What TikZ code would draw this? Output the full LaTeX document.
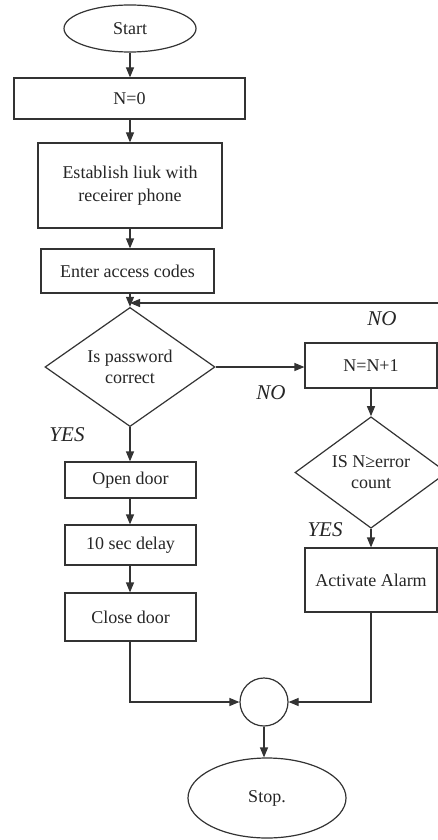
\documentclass[tikz,border=0pt]{standalone}
\usepackage{fontspec}
\setmainfont{Liberation Serif}
\usetikzlibrary{shapes.geometric,arrows.meta}
\begin{document}
\begin{tikzpicture}[x=1pt,y=-1pt,
  every node/.style={inner sep=0pt, text=black!85},
  line/.style={draw=black!80, line width=1.2pt},
  arr/.style={line, -{Triangle[length=10pt,width=8pt]}},
  boxnode/.style={draw=black!80, line width=1.2pt, rectangle, align=center, font=\fontsize{18}{23}\selectfont},
  decnode/.style={draw=black!80, line width=1.2pt, diamond, align=center, font=\fontsize{18}{21}\selectfont},
  termnode/.style={draw=black!80, line width=1.2pt, ellipse, font=\fontsize{18}{22}\selectfont},
  lbl/.style={font=\fontsize{21}{24}\selectfont\itshape}
]
\useasboundingbox (0,0) rectangle (438,840);
\fill[white] (0,0) rectangle (438,840);

\node[termnode, minimum width=132pt, minimum height=47pt] (start) at (130,28.5) {Start};
\node[boxnode, minimum width=231pt, minimum height=41pt] (n0) at (129.5,98.5) {N=0};
\node[boxnode, minimum width=184pt, minimum height=85pt] (est) at (130,185.5) {Establish liuk with\\receirer phone};
\node[boxnode, minimum width=173pt, minimum height=44pt] (enter) at (127.5,271) {Enter access codes};
\coordinate (merge) at (130,303);
\node[decnode, minimum width=170pt, minimum height=86pt] (dec1) at (130,367) {Is password\\correct};
\node[boxnode, minimum width=132pt, minimum height=45pt] (inc) at (371,365.5) {N=N+1};
\node[decnode, minimum width=152pt, minimum height=91pt] (dec2) at (371,472.5) {IS N≥error\\count};
\node[boxnode, minimum width=132pt, minimum height=64pt] (alarm) at (371,580) {Activate Alarm};
\node[boxnode, minimum width=131pt, minimum height=36pt] (open) at (130.5,480) {Open door};
\node[boxnode, minimum width=131pt, minimum height=40pt] (delay) at (130.5,545) {10 sec delay};
\node[boxnode, minimum width=131pt, minimum height=48pt] (close) at (130.5,617) {Close door};
\node[draw=black!80, line width=1.2pt, circle, minimum size=48pt] (join) at (264,702) {};
\node[termnode, minimum width=158pt, minimum height=80pt] (stop) at (267,798) {Stop.};
\coordinate (loopA) at (452,472.5);
\coordinate (loopB) at (452,303);

\draw[arr] (start.south -| 130,0) -- (n0.north -| 130,0);
\draw[arr] (n0.south -| 130,0) -- (est.north -| 130,0);
\draw[arr] (est.south -| 130,0) -- (enter.north -| 130,0);
\draw[arr] (enter.south -| 130,0) -- (dec1.north);
\draw[arr] (dec1.east) -- (dec1.east -| inc.west);
\draw[arr] (inc.south) -- (dec2.north);
\draw[arr] (dec2.south) -- (alarm.north);
\draw[arr] (dec1.south) -- (open.north -| dec1.south);
\draw[arr] (open.south -| 130,0) -- (delay.north -| 130,0);
\draw[arr] (delay.south -| 130,0) -- (close.north -| 130,0);
\draw[arr] (close.south -| 130,0) |- (join.west);
\draw[arr] (alarm.south) |- (join.east);
\draw[arr] (join.south) -- (join.south |- stop.north);
\draw[arr] (dec2.east) -- (loopA) -- (loopB) -- (merge);

\node[lbl] (no1) at (271,393) {NO};
\node[lbl] (no2) at (382,319) {NO};
\node[lbl] (yes1) at (67,435) {YES};
\node[lbl] (yes2) at (325,530) {YES};
\end{tikzpicture}
\end{document}
